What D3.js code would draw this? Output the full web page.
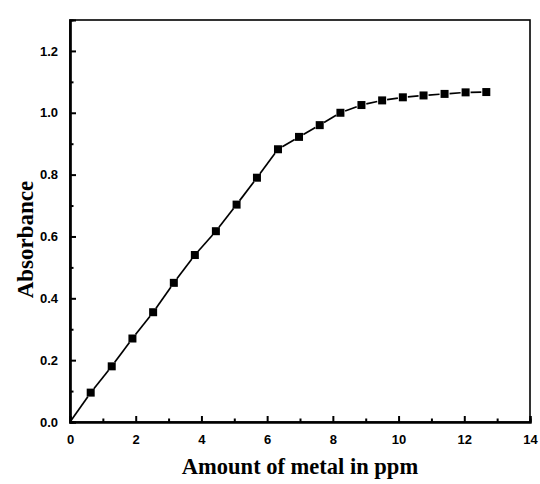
<!DOCTYPE html>
<html>
<head>
<meta charset="utf-8">
<script src="https://cdn.jsdelivr.net/npm/d3@7"></script>
<style>
	body { margin: 0; background: #fff; }
	svg { display: block; }
</style>
</head>
<body>
<svg id="svg_main" width="540" height="484"></svg>
<script>
// values
var metal_ppm = [0.63, 1.27, 1.9, 2.53, 3.16, 3.8, 4.44, 5.07, 5.69, 6.33,
	6.97, 7.6, 8.23, 8.87, 9.5, 10.13, 10.76, 11.4, 12.04, 12.67];
var absorbance = [0.095, 0.18, 0.27, 0.355, 0.45, 0.54, 0.617, 0.703, 0.79, 0.882,
	0.922, 0.96, 1.0, 1.025, 1.04, 1.05, 1.056, 1.061, 1.066, 1.067];
var origin = { x: 0, y: 0 };
var x_ticks = [0, 2, 4, 6, 8, 10, 12, 14];
var x_minor = [1, 3, 5, 7, 9, 11, 13];
var y_ticks = [0.0, 0.2, 0.4, 0.6, 0.8, 1.0, 1.2];
var y_minor = [0.1, 0.3, 0.5, 0.7, 0.9, 1.1];

var margin = { top: 20, right: 10, bottom: 62, left: 70 };

var svg = d3.select("#svg_main");
var width = 540 - margin.left - margin.right,
	height = 484 - margin.top - margin.bottom;

var data = metal_ppm.map((d, i) => { return { x: d, y: absorbance[i] }; });

var x = d3.scaleLinear().domain([0, 14]).range([0, width]),
	y = d3.scaleLinear().domain([0, 1.3]).range([height, 0]);

var g = svg.append("g")
	.attr("transform", `translate(${margin.left}, ${margin.top})`);

// frame
g.append("rect")
	.attr("x", 0)
	.attr("y", 0)
	.attr("width", width)
	.attr("height", height)
	.attr("fill", "none")
	.attr("stroke", "#000")
	.attr("stroke-width", 1.6);

// ticks point inward
var xAxis = d3.axisBottom(x).tickValues(x_ticks).tickSize(-6).tickPadding(13)
		.tickFormat(d3.format("d")),
	xMinor = d3.axisBottom(x).tickValues(x_minor).tickSize(-3.5).tickFormat(""),
	yAxis = d3.axisLeft(y).tickValues(y_ticks).tickSize(-6).tickPadding(12)
		.tickFormat(d3.format(".1f")),
	yMinor = d3.axisLeft(y).tickValues(y_minor).tickSize(-3.5).tickFormat("");

g.append("g")
	.attr("class", "xAxis")
	.attr("transform", `translate(0, ${height})`)
	.call(xAxis);
g.append("g")
	.attr("transform", `translate(0, ${height})`)
	.call(xMinor);
g.append("g")
	.attr("class", "yAxis")
	.call(yAxis);
g.append("g")
	.call(yMinor);

g.selectAll(".domain").attr("stroke", "#000").attr("stroke-width", 2.2);
g.selectAll(".tick line").attr("stroke", "#000").attr("stroke-width", 2);
g.selectAll(".tick text")
	.attr("font-family", "Liberation Sans, Arial, sans-serif")
	.attr("font-weight", "bold")
	.attr("font-size", "13px")
	.attr("fill", "#000");

// connecting line, broken a little round each marker
var pts = [origin].concat(data),
	gap = 5;
var segs = d3.pairs(pts).map(p => {
	let x1 = x(p[0].x), y1 = y(p[0].y), x2 = x(p[1].x), y2 = y(p[1].y);
	let len = Math.hypot(x2 - x1, y2 - y1);
	let ux = (x2 - x1) / len, uy = (y2 - y1) / len;
	let g0 = p[0] === origin ? 0 : gap;
	return { x1: x1 + ux * g0, y1: y1 + uy * g0, x2: x2 - ux * gap, y2: y2 - uy * gap };
});

g.append("g")
	.attr("class", "line")
	.selectAll("line")
	.data(segs)
	.enter().append("line")
	.attr("x1", d => d.x1)
	.attr("y1", d => d.y1)
	.attr("x2", d => d.x2)
	.attr("y2", d => d.y2)
	.attr("stroke", "#000")
	.attr("stroke-width", 1.7);

var size = 8;
g.append("g")
	.attr("class", "points")
	.selectAll("rect")
	.data(data)
	.enter().append("rect")
	.attr("x", d => x(d.x) - size / 2)
	.attr("y", d => y(d.y) - size / 2)
	.attr("width", size)
	.attr("height", size)
	.attr("fill", "#000");

// axis titles
var labels = g.append("g")
	.attr("class", "labels");
labels.append("text")
	.attr("x", -y(0.59))
	.attr("y", -37)
	.attr("transform", "rotate(-90)")
	.attr("text-anchor", "middle")
	.attr("font-family", "Liberation Serif, Times New Roman, serif")
	.attr("font-weight", "bold")
	.attr("font-size", "23px")
	.text("Absorbance");
labels.append("text")
	.attr("x", x(7.0))
	.attr("y", height + 52)
	.attr("text-anchor", "middle")
	.attr("font-family", "Liberation Serif, Times New Roman, serif")
	.attr("font-weight", "bold")
	.attr("font-size", "22.5px")
	.text("Amount of metal in ppm");
</script>
</body>
</html>
